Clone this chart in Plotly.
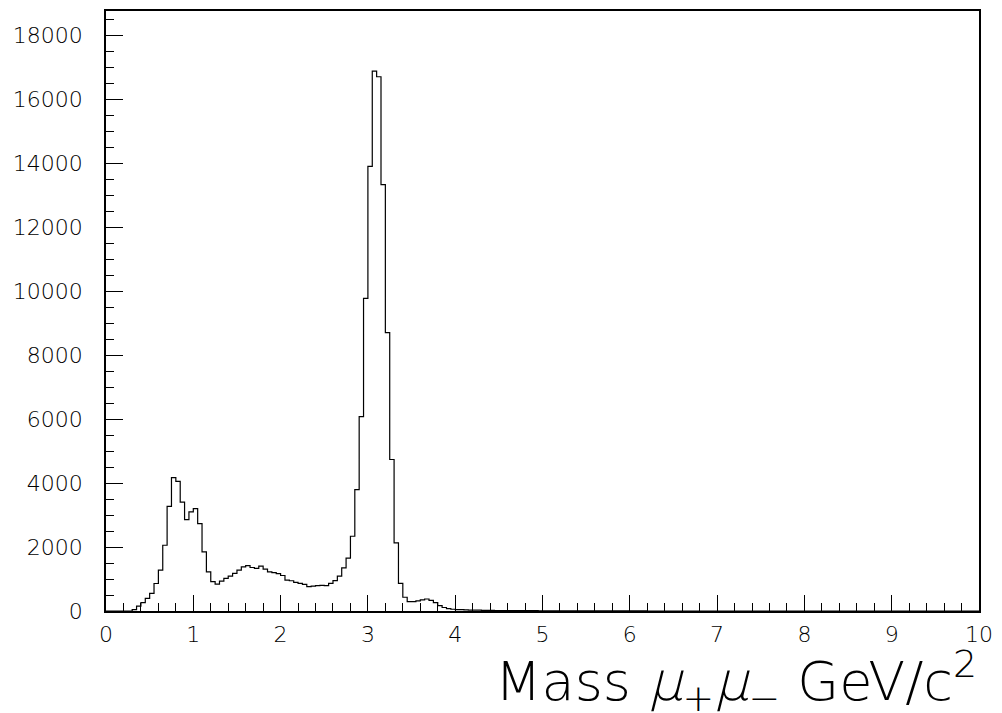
import plotly.graph_objects as go

# Histogram definition: 200 bins of 0.05 GeV/c^2 from 0 to 10
bin_start = 0.0
bin_width = 0.05
counts = [
    0, 0, 0, 0, 0, 0, 40, 155, 260, 395,
    550, 860, 1280, 2055, 3270, 4165, 4050, 3400, 2855, 3095,
    3200, 2730, 1850, 1225, 915, 840, 935, 1020, 1090, 1175,
    1280, 1380, 1420, 1360, 1330, 1400, 1310, 1225, 1200, 1170,
    1110, 965, 945, 895, 862, 830, 760, 780, 790, 800,
    790, 862, 950, 1090, 1345, 1650, 2336, 3790, 6074, 9772,
    13893, 16873, 16696, 13322, 8700, 4735, 2128, 862, 430, 290,
    295, 315, 350, 375, 335, 260, 170, 110, 75, 55,
    45, 40, 35, 30, 28, 25, 22, 20, 18, 16,
    15, 14, 13, 12, 11, 10, 10, 9, 9, 8,
    8, 7, 7, 6, 6, 5, 5, 5, 4, 4,
    4, 3, 3, 3, 3, 2, 2, 2, 2, 1,
    1, 1, 1, 1, 0, 0, 0, 0, 0, 0,
    0, 0, 0, 0, 0, 0, 0, 0, 0, 0,
    0, 0, 0, 0, 0, 0, 0, 0, 0, 0,
    0, 0, 0, 0, 0, 0, 0, 0, 0, 0,
    0, 0, 0, 0, 0, 0, 0, 0, 0, 0,
    0, 0, 0, 0, 0, 0, 0, 0, 0, 0,
    0, 0, 0, 0, 0, 0, 0, 0, 0, 0,
    0, 0, 0, 0, 0, 0, 0, 0, 0, 0,
]
x_range = [0, 10]
y_range = [0, 18750]
x_title = "Mass <i>μ</i><sub>+</sub><i>μ</i><sub>−</sub> GeV/c<sup>2</sup>"

edges = [bin_start + i * bin_width for i in range(len(counts) + 1)]
step_y = counts + [counts[-1]]

FONT = "DejaVu Sans ExtraLight, DejaVu Sans Light, Liberation Sans, sans-serif"

fig = go.Figure()
fig.add_trace(go.Scatter(
    x=edges, y=step_y, mode="lines", line_shape="hv",
    line=dict(color="black", width=1.2), hoverinfo="skip", showlegend=False,
))

fig.update_layout(
    width=1002, height=713,
    margin=dict(l=106, r=21, t=9, b=102),
    paper_bgcolor="white", plot_bgcolor="white",
    font=dict(family=FONT, color="black", size=22),
    showlegend=False,
)
fig.update_xaxes(
    range=x_range, showgrid=False, zeroline=False,
    showline=True, linecolor="black", linewidth=1.5, mirror=True,
    ticks="inside", ticklen=16, tickwidth=1, tickcolor="black",
    dtick=1, tick0=0, tickformat="d",
    minor=dict(ticks="inside", ticklen=8, dtick=0.2, tickcolor="black", tickwidth=1, showgrid=False),
    tickfont=dict(family=FONT, size=22, color="black"),
    ticklabelstandoff=3,
)
fig.update_yaxes(
    range=y_range, showgrid=False, zeroline=False,
    showline=True, linecolor="black", linewidth=1.5, mirror=True,
    ticks="inside", ticklen=17, tickwidth=1, tickcolor="black",
    dtick=2000, tick0=0, tickformat="d",
    minor=dict(ticks="inside", ticklen=8, dtick=500, tickcolor="black", tickwidth=1, showgrid=False),
    tickfont=dict(family=FONT, size=22, color="black"),
    ticklabelstandoff=17,
)
fig.add_annotation(
    text=x_title, xref="paper", yref="paper", x=1.0, y=-0.117,
    xanchor="right", yanchor="middle", showarrow=False,
    font=dict(family=FONT, size=54, color="black"),
)

fig.write_html("out.html")
